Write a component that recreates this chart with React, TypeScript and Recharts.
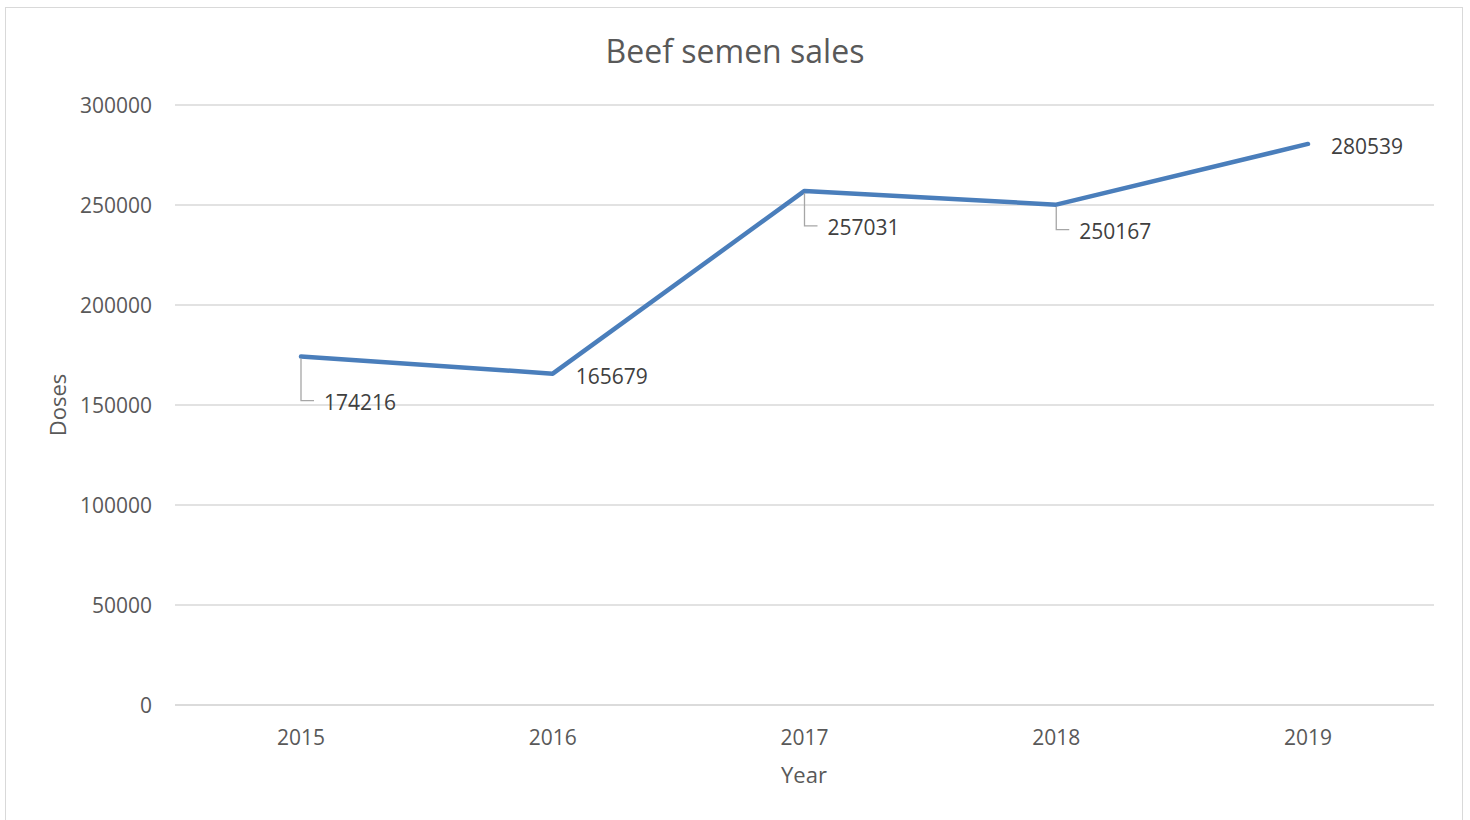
import { LineChart, Line, XAxis, YAxis, CartesianGrid, LabelList, Label } from 'recharts'

const years = ['2015', '2016', '2017', '2018', '2019']
const doses = [174216, 165679, 257031, 250167, 280539]
const yTicks = [0, 50000, 100000, 150000, 200000, 250000, 300000]

const chartData = years.map((year, i) => ({ year, doses: doses[i] }))

const FONT = '"Open Sans", "Noto Sans", sans-serif'

// where Excel put each label: leader drop (px) or plain right-side label
const leaderDrop = [44, 0, 35, 25, 0]

function DataLabel(props: any) {
  const { x, y, value, index } = props
  const drop = leaderDrop[index]
  if (!drop) {
    return (
      <text x={x + 23} y={y + 2} dominantBaseline="central" fill="#404040" fontSize={21} fontFamily={FONT}>
        {value}
      </text>
    )
  }
  return (
    <g>
      <polyline
        points={`${x},${y + 2} ${x},${y + drop} ${x + 13},${y + drop}`}
        fill="none"
        stroke="#a6a6a6"
        strokeWidth={1.3}
      />
      <text x={x + 23} y={y + drop + 1} dominantBaseline="central" fill="#404040" fontSize={21} fontFamily={FONT}>
        {value}
      </text>
    </g>
  )
}

export default function App() {
  return (
    <div style={{ position: 'absolute', left: 0, top: 0, width: 1470, height: 820, background: '#fff', overflow: 'hidden' }}>
      <div
        style={{
          position: 'absolute',
          left: 5,
          top: 7,
          width: 1456,
          height: 830,
          border: '1px solid #d9d9d9',
        }}
      />
      <div
        style={{
          position: 'absolute',
          left: 0,
          width: 1470,
          top: 29,
          textAlign: 'center',
          fontFamily: FONT,
          fontSize: 32,
          color: '#595959',
          lineHeight: '44px',
        }}
      >
        Beef semen sales
      </div>
      <div style={{ position: 'absolute', left: 0, top: 0 }}>
        <LineChart width={1470} height={820} data={chartData} margin={{ top: 105, right: 36, bottom: 55, left: 0 }}>
          <CartesianGrid vertical={false} stroke="#d9d9d9" strokeWidth={1.5} />
          <XAxis
            dataKey="year"
            padding={{ left: 126, right: 126 }}
            axisLine={{ stroke: '#d9d9d9', strokeWidth: 1.5 }}
            tickLine={false}
            tickSize={0}
            tickMargin={25}
            height={60}
            tick={{ fill: '#595959', fontSize: 21, fontFamily: FONT }}
          >
            <Label
              content={() => (
                <text
                  x={804}
                  y={774}
                  textAnchor="middle"
                  dominantBaseline="central"
                  fill="#595959"
                  fontSize={22}
                  fontFamily={FONT}
                >
                  Year
                </text>
              )}
            />
          </XAxis>
          <YAxis
            width={175}
            domain={[0, 300000]}
            ticks={yTicks}
            axisLine={false}
            tickLine={false}
            tickSize={0}
            tickMargin={23}
            tick={{ fill: '#595959', fontSize: 21, fontFamily: FONT, dy: 1 }}
          >
            <Label
              content={(p: any) => (
                <text
                  x={57}
                  y={p.viewBox.y + p.viewBox.height / 2}
                  textAnchor="middle"
                  dominantBaseline="central"
                  transform={`rotate(-90, 57, ${p.viewBox.y + p.viewBox.height / 2})`}
                  fill="#595959"
                  fontSize={22}
                  fontFamily={FONT}
                >
                  Doses
                </text>
              )}
            />
          </YAxis>
          <Line
            type="linear"
            dataKey="doses"
            stroke="#4a7ebb"
            strokeWidth={4.5}
            strokeLinecap="round"
            strokeLinejoin="round"
            dot={false}
            activeDot={false}
            isAnimationActive={false}
          >
            <LabelList dataKey="doses" content={DataLabel} />
          </Line>
        </LineChart>
      </div>
    </div>
  )
}
